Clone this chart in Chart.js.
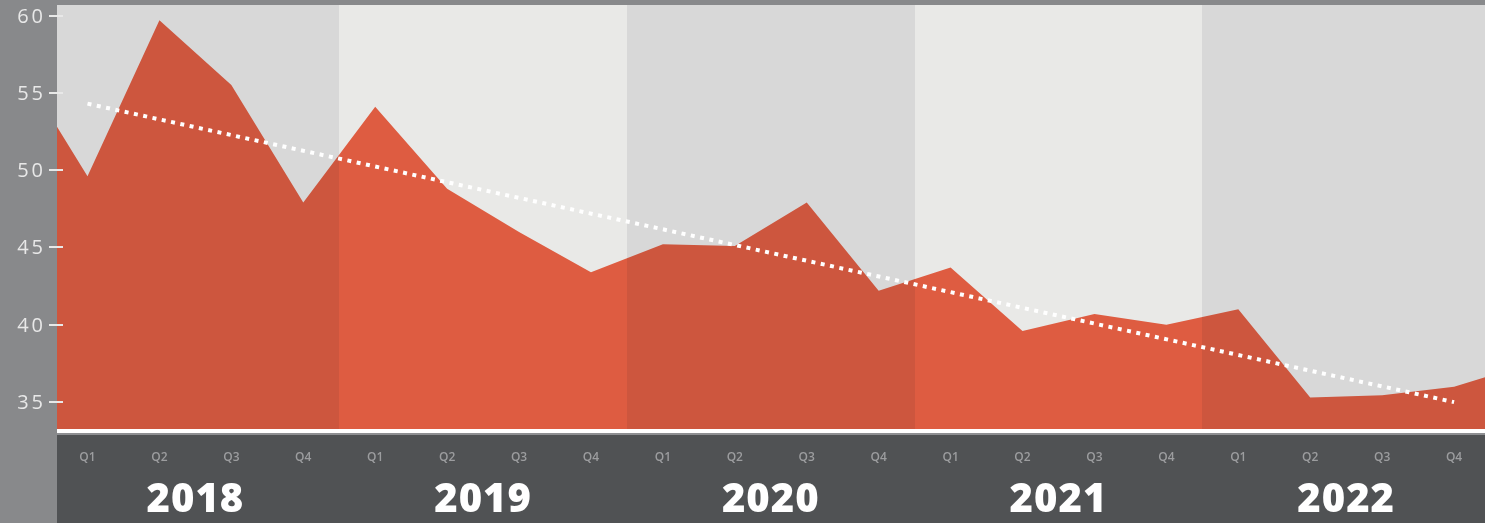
<!DOCTYPE html>
<html>
<head>
<meta charset="utf-8">
<title>Quarterly index 2018-2022</title>
<script src="https://cdn.jsdelivr.net/npm/chart.js@4.4.1/dist/chart.umd.min.js"></script>
<style>
  html, body { margin: 0; padding: 0; background: #88898b; }
  #wrap { width: 1485px; height: 523px; }
</style>
</head>
<body>
<div id="wrap"><canvas id="chart" width="1485" height="523"></canvas></div>
<script>
// Quarter labels, one per data point
const quarters = [
  "Q1", "Q2", "Q3", "Q4",
  "Q1", "Q2", "Q3", "Q4",
  "Q1", "Q2", "Q3", "Q4",
  "Q1", "Q2", "Q3", "Q4",
  "Q1", "Q2", "Q3", "Q4"
];
const years = ["2018", "2019", "2020", "2021", "2022"];

// Quarterly values
const values = [
  49.6, 59.7, 55.5, 47.9,
  54.1, 48.8, 46.0, 43.4,
  45.2, 45.1, 47.9, 42.2,
  43.7, 39.6, 40.7, 40.0,
  41.0, 35.3, 35.45, 36.0
];
// Where the series crosses the left and right edges of the plot
const edgeValues = [52.8, 36.6];
// Trend line at the first and last quarter
const trendValues = [54.3, 35.0];

const yTicks = [35, 40, 45, 50, 55, 60];

const X_MIN = -0.424;
const X_MAX = 19.43;

const BAND_DARK = "#d8d8d8";
const BAND_LIGHT = "#e9e9e7";
const RED_DARK = "#cd563e";
const RED_LIGHT = "#de5c41";

function yearRange(k) {
  return [4 * k - 0.5, 4 * k + 3.5];
}

// Area colour changes with the year band behind it
function bandFill(context) {
  const chart = context.chart;
  const area = chart.chartArea;
  if (!area) return RED_LIGHT;
  const xs = chart.scales.x;
  const w = area.right - area.left;
  const g = chart.ctx.createLinearGradient(area.left, 0, area.right, 0);
  years.forEach((_, k) => {
    const [a, b] = yearRange(k);
    const from = Math.min(1, Math.max(0, (Math.round(xs.getPixelForValue(a)) - area.left) / w));
    const to = Math.min(1, Math.max(0, (Math.round(xs.getPixelForValue(b)) - area.left) / w));
    const c = k % 2 ? RED_LIGHT : RED_DARK;
    g.addColorStop(from, c);
    g.addColorStop(to, c);
  });
  return g;
}

const areaData = [{ x: X_MIN, y: edgeValues[0] }]
  .concat(values.map((v, i) => ({ x: i, y: v })))
  .concat([{ x: X_MAX, y: edgeValues[1] }]);

const trendData = [
  { x: 0, y: trendValues[0] },
  { x: values.length - 1, y: trendValues[1] }
];

const decorations = {
  id: "decorations",
  beforeDraw(chart) {
    const { ctx, chartArea, scales } = chart;
    const xs = scales.x;
    ctx.save();
    // year bands
    years.forEach((_, k) => {
      const [a, b] = yearRange(k);
      const x0 = Math.max(chartArea.left, Math.round(xs.getPixelForValue(a)));
      const x1 = Math.min(chartArea.right, Math.round(xs.getPixelForValue(b)));
      ctx.fillStyle = k % 2 ? BAND_LIGHT : BAND_DARK;
      ctx.fillRect(x0, chartArea.top, x1 - x0, chartArea.bottom - chartArea.top);
    });
    // bottom strip with the white rule on top
    const w = chartArea.right - chartArea.left;
    ctx.fillStyle = "#505254";
    ctx.fillRect(chartArea.left, chartArea.bottom, w, chart.height - chartArea.bottom);
    ctx.fillStyle = "#ffffff";
    ctx.fillRect(chartArea.left, chartArea.bottom, w, 4);
    ctx.fillStyle = "#8e8f92";
    ctx.fillRect(chartArea.left, chartArea.bottom + 4, w, 2);
    ctx.restore();
  },
  afterDatasetsDraw(chart) {
    const { ctx, scales } = chart;
    ctx.save();
    ctx.strokeStyle = "#e8e8e8";
    ctx.fillStyle = "#e8e8e8";
    ctx.lineWidth = 2;
    ctx.font = "400 20px 'Open Sans'";
    ctx.textAlign = "right";
    ctx.textBaseline = "middle";
    if ("letterSpacing" in ctx) ctx.letterSpacing = "3px";
    yTicks.forEach((v) => {
      const y = Math.round(scales.y.getPixelForValue(v));
      ctx.beginPath();
      ctx.moveTo(49, y);
      ctx.lineTo(63, y);
      ctx.stroke();
      ctx.fillText(String(v), 46, y + 1);
    });
    ctx.restore();
  },
  afterDraw(chart) {
    const { ctx, scales } = chart;
    ctx.save();
    ctx.fillStyle = "#ffffff";
    ctx.font = "800 40px 'Open Sans'";
    ctx.textAlign = "center";
    ctx.textBaseline = "alphabetic";
    if ("letterSpacing" in ctx) ctx.letterSpacing = "1px";
    years.forEach((yr, k) => {
      const x = scales.x.getPixelForValue(4 * k + 1.5);
      ctx.fillText(yr, x, 512);
    });
    ctx.restore();
  }
};

new Chart(document.getElementById("chart"), {
  type: "line",
  data: {
    datasets: [
      {
        label: "Trend",
        data: trendData,
        borderColor: "#ffffff",
        borderWidth: 4,
        borderDash: [4, 5.5],
        borderCapStyle: "butt",
        pointRadius: 0,
        fill: false,
        order: 0
      },
      {
        label: "Index",
        data: areaData,
        borderWidth: 0,
        borderColor: "rgba(0,0,0,0)",
        backgroundColor: bandFill,
        pointRadius: 0,
        tension: 0,
        fill: "start",
        order: 1
      }
    ]
  },
  options: {
    responsive: false,
    animation: false,
    layout: { padding: { top: 5, right: 0, left: 0, bottom: 0 } },
    plugins: {
      legend: { display: false },
      tooltip: { enabled: false }
    },
    scales: {
      x: {
        type: "linear",
        min: X_MIN,
        max: X_MAX,
        afterBuildTicks: (axis) => {
          axis.ticks = quarters.map((_, i) => ({ value: i }));
        },
        afterFit: (axis) => {
          axis.height = 94;
        },
        grid: { display: false, drawTicks: false },
        border: { display: false },
        ticks: {
          autoSkip: false,
          maxRotation: 0,
          minRotation: 0,
          padding: 21,
          color: "#9c9d9f",
          font: { family: "Open Sans", size: 12, weight: "600" },
          callback: (value, index) => quarters[index]
        }
      },
      y: {
        min: 33.26,
        max: 60.68,
        afterBuildTicks: (axis) => {
          axis.ticks = yTicks.map((v) => ({ value: v }));
        },
        afterFit: (axis) => {
          axis.width = 57;
        },
        grid: { display: false, drawTicks: false },
        border: { display: false },
        ticks: { display: false }
      }
    }
  },
  plugins: [decorations]
});
</script>
</body>
</html>
